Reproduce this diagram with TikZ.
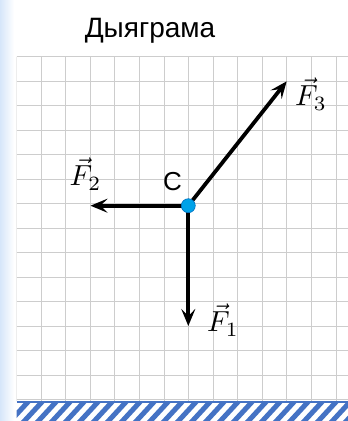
\documentclass[tikz,border=0pt]{standalone}
\usepackage{fontspec}
\setmainfont{Liberation Sans}
\usetikzlibrary{arrows.meta}
\definecolor{gridgray}{RGB}{205,205,205}
\definecolor{hatchblue}{RGB}{68,114,196}
\definecolor{dotblue}{RGB}{0,162,232}
\definecolor{dotedge}{RGB}{0,112,192}
\definecolor{stripblue}{RGB}{214,230,250}
\newcommand{\flab}[1]{\scalebox{2.9}{$\vec{F}_{#1}$}}
\tikzset{
  force/.style={line width=3.8pt, -{Stealth[length=17pt,width=14pt,inset=7pt]}},
  gridline/.style={gridgray, line width=1pt},
  flabel/.style={inner sep=0pt},
}
\begin{document}
\begin{tikzpicture}[x=1pt,y=-1pt]
\useasboundingbox (0,0) rectangle (348,421);
\fill[white] (0,0) rectangle (348,421);
\shade[left color=stripblue, right color=white] (0,0) rectangle (14,421);
% grid
\begin{scope}
\clip (16.7,56.7) rectangle (348,401);
\foreach \k in {0,...,13} \draw[gridline] ({16.7+24.57*\k},56.7) -- ({16.7+24.57*\k},401);
\foreach \k in {0,...,14} \draw[gridline] (16.7,{56.7+24.5*\k}) -- (348,{56.7+24.5*\k});
\end{scope}
% hatched ground
\begin{scope}
\clip (16.7,401.5) rectangle (348,421);
\foreach \k in {0,...,26} \draw[hatchblue, line width=5pt] ({16.7+14*\k-10},425) -- ({16.7+14*\k+14},399);
\end{scope}
\draw[hatchblue, line width=2pt] (16.7,402) -- (348,402);
% title
\node[anchor=base, inner sep=0pt, font=\fontsize{28}{32}\selectfont] (title) at (150,37.7) {Дыяграма};
% forces
\coordinate (c) at (188.3,205.7);
\coordinate (t1) at (188.3,326);
\coordinate (t2) at (90.5,205.7);
\coordinate (t3) at (286.7,81.3);
\draw[force] (c) -- (t1);
\draw[force] (c) -- (t2);
\draw[force] (c) -- (t3);
\node[circle, fill=dotblue, draw=dotedge, line width=0.6pt, minimum size=14pt, inner sep=0pt] (cdot) at (c) {};
\node[anchor=base, inner sep=0pt, font=\fontsize{26}{30}\selectfont] (clabel) at (172.5,190.7) {C};
\node[flabel] (f1) at (223,320) {\flab{1}};
\node[flabel] (f2) at (85.5,174) {\flab{2}};
\node[flabel] (f3) at (311,94) {\flab{3}};
\end{tikzpicture}
\end{document}
